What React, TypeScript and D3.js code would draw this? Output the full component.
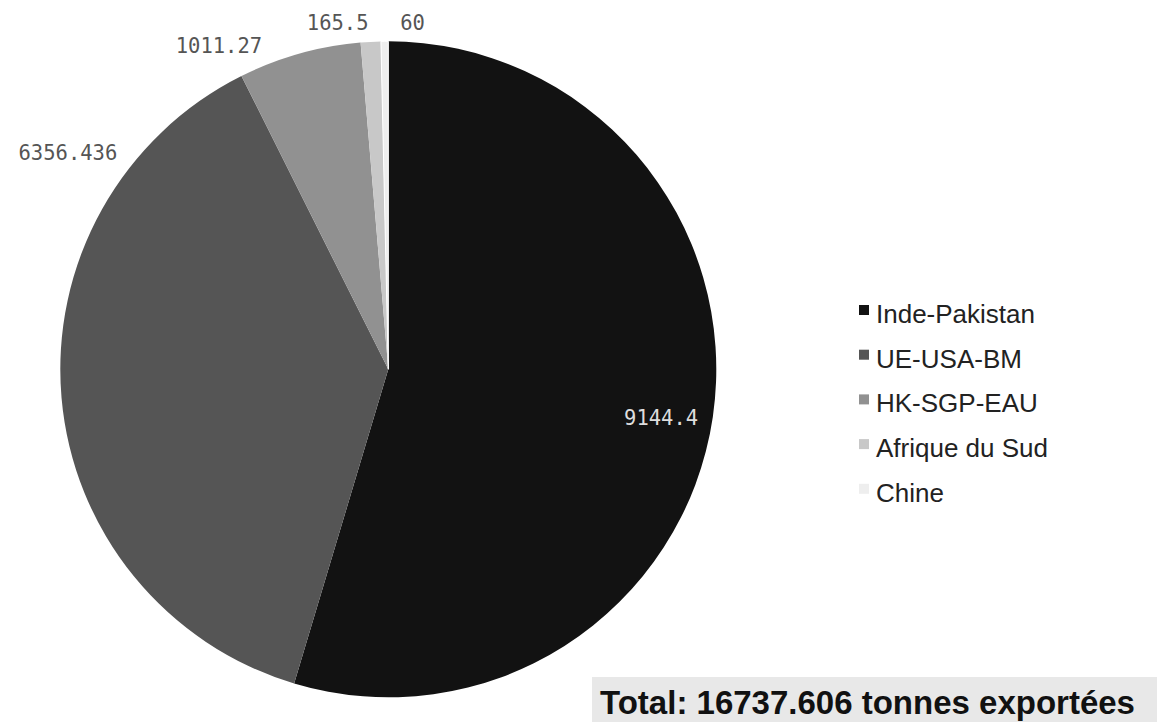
import React from "react";
import * as d3 from "d3";

// Export volumes by destination (tonnes)
const categories: string[] = ["Inde-Pakistan", "UE-USA-BM", "HK-SGP-EAU", "Afrique du Sud", "Chine"];
const values: number[] = [9144.4, 6356.436, 1011.27, 165.5, 60];
const sliceColors: string[] = ["#121212", "#555555", "#919191", "#c8c8c8", "#eeeeee"];
const totalLabel = "Total: 16737.606 tonnes exportées";

const W = 1157;
const H = 722;
const CX = 388.3;
const CY = 369.3;
const R = 328;

// Angular nudges (degrees) so the small outer labels do not collide
const labelShift: number[] = [1.8, 43.6, -5.6, -0.2, 2.6];

export default function App() {
  const rows = categories.map((c, i) => ({ name: c, value: values[i], color: sliceColors[i], i }));
  const pie = d3.pie<any>().sort(null).value((d) => d.value);
  const arcs = pie(rows);
  const arc = d3.arc<any>().innerRadius(0).outerRadius(R);
  const fmt = (v: number) => String(v);

  return (
    <svg
      width={W}
      height={H}
      style={{ position: "fixed", left: 0, top: 0, background: "#ffffff" }}
    >
      <g transform={`translate(${CX},${CY})`}>
        {arcs.map((a, k) => (
          <path key={k} d={arc(a) as string} fill={a.data.color} stroke={k === 4 ? "#ffffff" : "none"} strokeWidth={1} />
        ))}
        {arcs.map((a, k) => {
          const mid = (a.startAngle + a.endAngle) / 2 + (labelShift[k] * Math.PI) / 180;
          if (k === 0) {
            const rr = R * 0.845;
            return (
              <text
                key={"l" + k}
                x={rr * Math.sin(mid)}
                y={-rr * Math.cos(mid)}
                dy="0.35em"
                textAnchor="middle"
                fontFamily="'DejaVu Sans Mono', monospace"
                fontSize={20.5}
                fill="#dddddd"
              >
                {fmt(a.data.value)}
              </text>
            );
          }
          const rr = R + 19;
          const sx = Math.sin(mid);
          return (
            <text
              key={"l" + k}
              x={rr * sx}
              y={-rr * Math.cos(mid)}
              dy="0.35em"
              textAnchor={sx < 0 ? "end" : "start"}
              fontFamily="'DejaVu Sans Mono', monospace"
              fontSize={20.5}
              fill="#555555"
            >
              {fmt(a.data.value)}
            </text>
          );
        })}
      </g>

      <g transform="translate(859,323)">
        {rows.map((d, i) => (
          <g key={d.name} transform={`translate(0,${i * 44.7})`}>
            <rect x={0} y={-18} width={10} height={10} fill={d.color} />
            <text
              x={17}
              y={0}
              fontFamily="'Liberation Sans', Arial, sans-serif"
              fontSize={26}
              fill="#222222"
            >
              {d.name}
            </text>
          </g>
        ))}
      </g>

      <rect x={592} y={677} width={W - 592} height={H - 677} fill="#e8e8e8" />
      <text
        x={600}
        y={714}
        fontFamily="'Liberation Sans', Arial, sans-serif"
        fontWeight="bold"
        fontSize={33}
        fill="#111111"
      >
        {totalLabel}
      </text>
    </svg>
  );
}
